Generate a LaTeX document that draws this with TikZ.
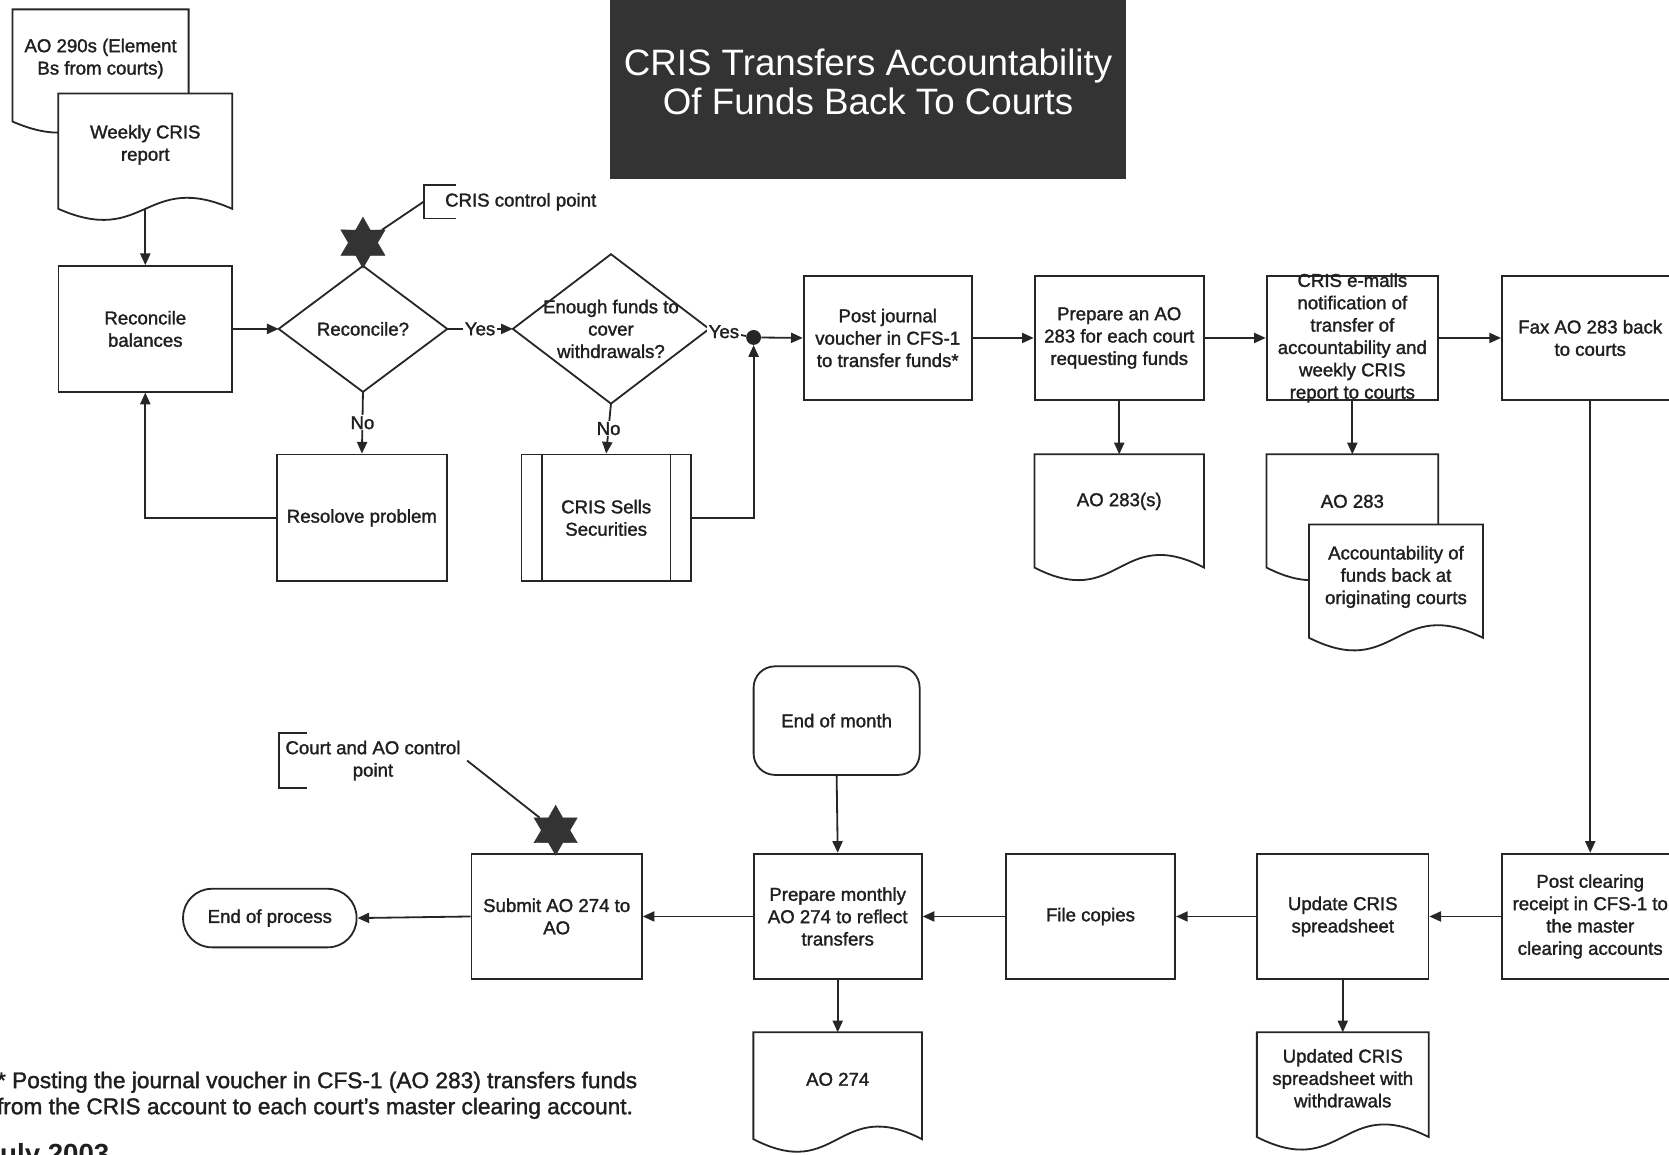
\documentclass[tikz,border=0pt]{standalone}
\usepackage{fontspec}
\setmainfont{Liberation Sans}
\newfontfamily\scanfont{Liberation Sans}[Ligatures=TeX, FakeBold=1.5]
\usetikzlibrary{shapes.geometric,arrows.meta}
\pgfdeclarelayer{docs}
\pgfsetlayers{docs,main}
% \docshape[wave]{node}{extra depth below node}
\newcommand\docshape[3][41]{%
  \begin{pgfonlayer}{docs}
  \draw[ln, fill=white] ([yshift=-#3pt]#2.south west) -- (#2.north west) -- (#2.north east) -- ([yshift=-#3pt]#2.south east)
    .. controls ([yshift=#1pt-#3pt]#2.south) and ([yshift=-#1pt-#3pt]#2.south) .. ([yshift=-#3pt]#2.south west) -- cycle;
  \end{pgfonlayer}}
\begin{document}
\begin{tikzpicture}[x=1pt,y=-1pt,
  ln/.style={draw=black!85, line width=1.7pt},
  ar/.style={ln, -{Triangle[length=11pt,width=9.5pt]}},
  tx/.style={font=\scanfont\fontsize{17.5}{21}\selectfont, align=center, text=black!88, inner sep=0pt},
  pbox/.style={tx, ln, fill=white},
  dnode/.style={tx},
  lbl/.style={tx, fill=white, inner xsep=1.5pt, inner ysep=1pt},
  starnode/.style={star, star points=6, star point ratio=1.75, fill=black!80, draw=black!80, inner sep=0pt},
]
\useasboundingbox (0,0) rectangle (1568,1085);

% title
\node[fill=black!80, text=white, font=\fontsize{34.5}{36}\selectfont, align=center,
      minimum width=485pt, minimum height=182pt, inner sep=0pt] (title) at (815.5,77)
      {CRIS Transfers Accountability\\Of Funds Back To Courts};

% left column
\node[dnode, minimum width=165pt, minimum height=92pt] (ao290) at (94.5,55) {AO 290s (Element\\Bs from courts)};
\node[dnode, minimum width=163pt, minimum height=96pt] (weekly) at (136.5,136) {Weekly CRIS\\report};
\docshape[36]{ao290}{13}
\docshape[36]{weekly}{12}
\node[pbox, minimum width=163pt, minimum height=118pt] (recbal) at (136.5,309) {Reconcile\\balances};

% decisions
\node[tx, minimum width=158pt, minimum height=118pt] (d1) at (341,309) {Reconcile?};
\draw[ln] (d1.north) -- (d1.east) -- (d1.south) -- (d1.west) -- cycle;
\node[tx, minimum width=184pt, minimum height=140pt] (d2) at (574,309) {Enough funds to\\cover\\withdrawals?};
\draw[ln] (d2.north) -- (d2.east) -- (d2.south) -- (d2.west) -- cycle;

\node[starnode, minimum size=48pt] (st1) at (341,228) {};
\node[tx, anchor=west, inner xsep=20pt, minimum height=31pt] (cp1) at (398,189.5) {CRIS control point};
\draw[ln] ([xshift=30pt]cp1.north west) -- (cp1.north west) -- (cp1.south west) -- ([xshift=30pt]cp1.south west);
\draw[ln] (st1) -- (cp1.west);

\node[pbox, minimum width=160pt, minimum height=119pt] (resolve) at (340,486.5) {Resolove problem};
\node[pbox, minimum width=159pt, minimum height=119pt] (sells) at (569.5,486.5) {CRIS Sells\\Securities};
\draw[ln] ([xshift=20pt]sells.north west) -- ([xshift=20pt]sells.south west);
\draw[ln] ([xshift=-20pt]sells.north east) -- ([xshift=-20pt]sells.south east);

\node[circle, fill=black!85, inner sep=0pt, minimum size=14pt] (dot) at (708,317) {};

% top row
\node[pbox, minimum width=158pt, minimum height=117pt] (post) at (834,317.5) {Post journal\\voucher in CFS-1\\to transfer funds*};
\node[pbox, minimum width=159pt, minimum height=117pt] (prep) at (1051.5,317.5) {Prepare an AO\\283 for each court\\requesting funds};
\node[ln, minimum width=161pt, minimum height=117pt, inner sep=0pt] (email) at (1270.5,317.5) {};
\node[tx] (emailtext) at (email.center) {CRIS e-mails\\notification of\\transfer of\\accountability and\\weekly CRIS\\report to courts};
\node[pbox, minimum width=166pt, minimum height=117pt] (fax) at (1494,317.5) {Fax AO 283 back\\to courts};

\node[dnode, minimum width=159pt, minimum height=88pt] (ao283s) at (1051.5,471) {AO 283(s)};
\node[dnode, minimum width=161pt, minimum height=88pt] (ao283) at (1270.5,471) {AO 283};
\node[dnode, minimum width=163pt, minimum height=98pt] (acct) at (1311.5,542) {Accountability of\\funds back at\\originating courts};
\docshape{ao283s}{18}
\docshape{ao283}{18}
\docshape{acct}{8}

% bottom row
\node[pbox, minimum width=166pt, minimum height=118pt] (postclr) at (1494,861) {Post clearing\\receipt in CFS-1 to\\the master\\clearing accounts};
\node[pbox, minimum width=161pt, minimum height=118pt] (upd) at (1261.5,861) {Update CRIS\\spreadsheet};
\node[pbox, minimum width=159pt, minimum height=118pt] (files) at (1024.5,861) {File copies};
\node[pbox, minimum width=158pt, minimum height=118pt] (pm) at (787,861) {Prepare monthly\\AO 274 to reflect\\transfers};
\node[pbox, minimum width=160pt, minimum height=118pt] (submit) at (523,861) {Submit AO 274 to\\AO};
\node[pbox, rounded corners=27pt, minimum width=163pt, minimum height=55pt] (eop) at (253.5,862.5) {End of process};
\node[pbox, rounded corners=20pt, minimum width=156pt, minimum height=102pt] (eom) at (786,677) {End of month};

\node[dnode, minimum width=158pt, minimum height=88pt] (ao274) at (787,1014) {AO 274};
\node[dnode, minimum width=161pt, minimum height=86pt] (upddoc) at (1261.5,1013) {Updated CRIS\\spreadsheet with\\withdrawals};
\docshape{ao274}{12}
\docshape{upddoc}{12}

\node[starnode, minimum size=47pt] (st2) at (522,780) {};
\node[tx, anchor=west, inner xsep=6pt, minimum height=51pt] (cp2) at (262,714.5) {Court and AO control\\point};
\draw[ln] ([xshift=26pt]cp2.north west) -- (cp2.north west) -- (cp2.south west) -- ([xshift=26pt]cp2.south west);
\draw[ln] (cp2.east) -- (st2);

% footnote
\node[tx, anchor=west, align=left, font=\scanfont\fontsize{21.3}{24.5}\selectfont] (note) at (-3,1029)
  {* Posting the journal voucher in CFS-1 (AO 283) transfers funds\\from the CRIS account to each court's master clearing account.};
\node[tx, anchor=base west, font=\bfseries\fontsize{26}{28}\selectfont] (july) at (-14.5,1093) {July 2003};

% connectors
\draw[ar] ([yshift=-12pt]weekly.south) -- (recbal.north);
\draw[ar] (recbal.east) -- (d1.west);
\draw[ar] (d1.east) -- node[lbl]{Yes} (d2.west);
\draw[ln] (d2.east) -- node[lbl, pos=0.4]{Yes} (dot);
\draw[ar] (dot) -- (post.west);
\draw[ar] (d1.south) -- node[lbl]{No} (resolve.north);
\draw[ar] (d2.south) -- node[lbl]{No} (sells.north);
\draw[ar] (resolve.west) -| (recbal.south);
\draw[ar] (sells.east) -| (dot.south);
\draw[ar] (post.east) -- (prep.west);
\draw[ar] (prep.east) -- (email.west);
\draw[ar] (email.east) -- (fax.west);
\draw[ar] (prep.south) -- (ao283s.north);
\draw[ar] (email.south) -- (ao283.north);
\draw[ar] (fax.south) -- (postclr.north);
\draw[ar] (postclr.west) -- (upd.east);
\draw[ar] (upd.west) -- (files.east);
\draw[ar] (files.west) -- (pm.east);
\draw[ar] (pm.west) -- (submit.east);
\draw[ar] (submit.west) -- (eop.east);
\draw[ar] (eom.south) -- (pm.north);
\draw[ar] (pm.south) -- (ao274.north);
\draw[ar] (upd.south) -- (upddoc.north);
\end{tikzpicture}
\end{document}
